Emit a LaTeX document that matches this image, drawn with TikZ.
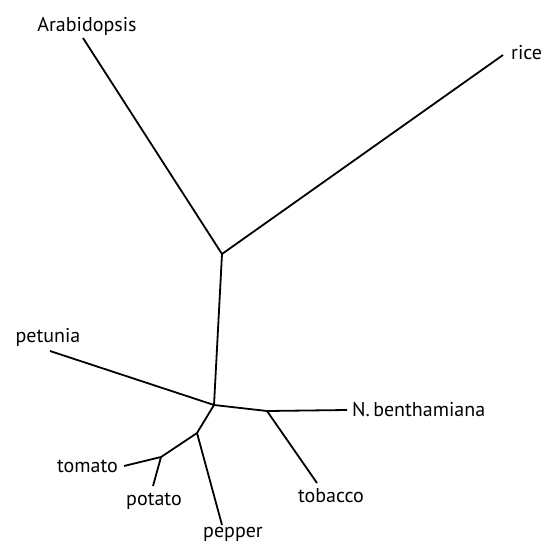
\documentclass[tikz,border=0pt]{standalone}
\usepackage{fontspec}
\setmainfont{PT Sans}
\usetikzlibrary{positioning}

\begin{document}
\begin{tikzpicture}[
    x=1pt, y=-1pt,
    leaf/.style={inner sep=0pt, font=\fontsize{20}{24}\selectfont},
    branch/.style={line width=1.8pt, line join=round}
]
\useasboundingbox[fill=white] (0,0) rectangle (545,545);

% Internal nodes
\coordinate (root)  at (222,254);
\coordinate (solan) at (214,405);
\coordinate (nico)  at (267,411);
\coordinate (caps)  at (197,433);
\coordinate (lyco)  at (161,457);

% Tips
\coordinate (arabtip) at (83,38);
\coordinate (ricetip) at (503,55);
\coordinate (petutip) at (50,351);
\coordinate (benttip) at (347,410);
\coordinate (tobatip) at (317,483);
\coordinate (tomatip) at (124,466);
\coordinate (potatip) at (153,486);
\coordinate (peptip)  at (222,525);

% Labels
\node[leaf, above=2pt of arabtip, xshift=4pt]  (arab) {Arabidopsis};
\node[leaf, right=8pt of ricetip, yshift=2pt]  (rice) {rice};
\node[leaf, above=4pt of petutip, xshift=-2pt] (petu) {petunia};
\node[leaf, right=5pt of benttip]              (bent) {N.\,benthamiana};
\node[leaf, below=5pt of tobatip, xshift=14pt] (toba) {tobacco};
\node[leaf, left=6pt of tomatip]               (toma) {tomato};
\node[leaf, below=7pt of potatip, xshift=1pt]  (pota) {potato};
\node[leaf, below=2pt of peptip, xshift=11pt]  (pepp) {pepper};

% Branches
\draw[branch] (arabtip) -- (root) -- (ricetip);
\draw[branch] (root) -- (solan);
\draw[branch] (petutip) -- (solan) -- (nico) -- (benttip);
\draw[branch] (nico) -- (tobatip);
\draw[branch] (solan) -- (caps) -- (lyco) -- (tomatip);
\draw[branch] (lyco) -- (potatip);
\draw[branch] (caps) -- (peptip);
\end{tikzpicture}
\end{document}
